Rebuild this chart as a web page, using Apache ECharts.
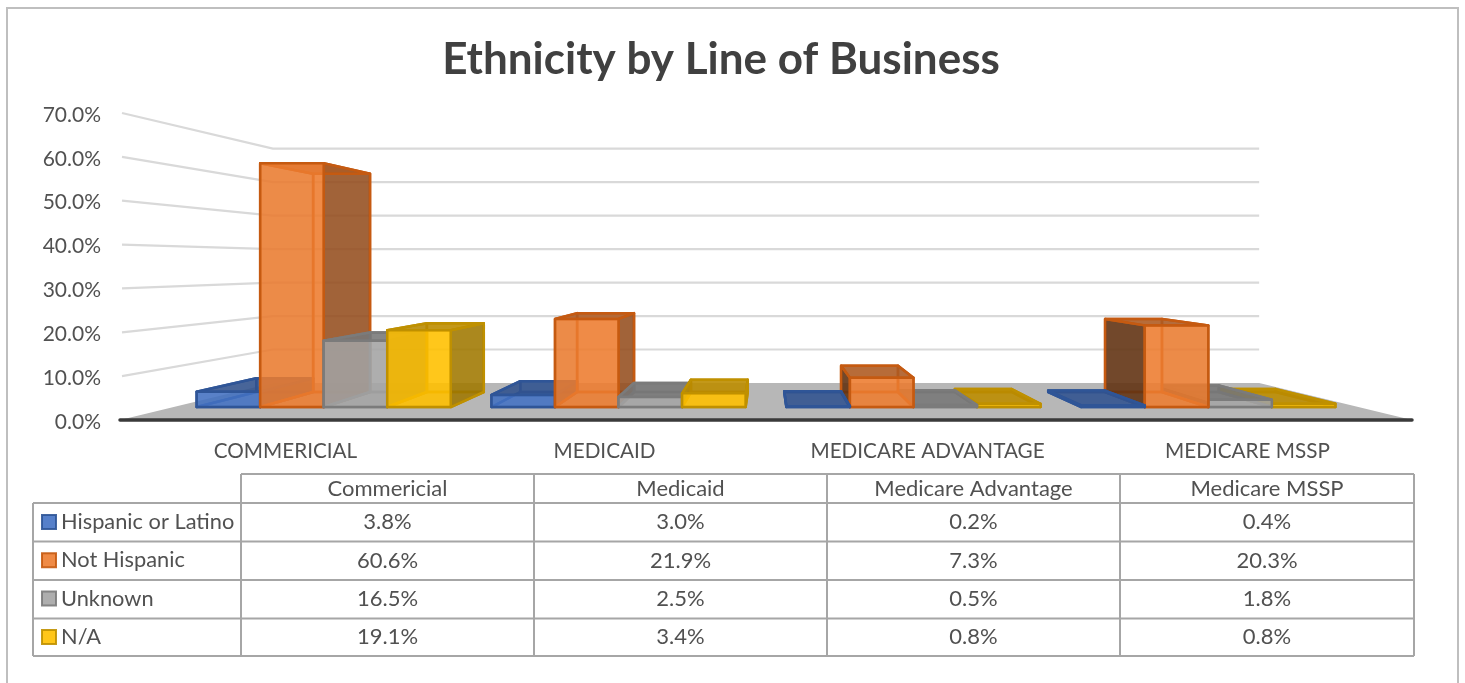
<!DOCTYPE html>
<html>
<head>
<meta charset="utf-8">
<style>html,body{margin:0;padding:0;background:#fff}#chart{width:1465px;height:683px}</style>
<script src="https://cdn.jsdelivr.net/npm/echarts@6/dist/echarts.min.js"></script>
</head>
<body>
<div id="chart"></div>
<script>
// Share of members per ethnicity, by line of business (percent).
const axisCategories = ['COMMERICIAL', 'MEDICAID', 'MEDICARE ADVANTAGE', 'MEDICARE MSSP'];
const tableCategories = ['Commericial', 'Medicaid', 'Medicare Advantage', 'Medicare MSSP'];
const hispanic = [3.8, 3.0, 0.2, 0.4];
const notHispanic = [60.6, 21.9, 7.3, 20.3];
const unknown = [16.5, 2.5, 0.5, 1.8];
const notAvailable = [19.1, 3.4, 0.8, 0.8];
const seriesNames = ['Hispanic or Latino', 'Not Hispanic', 'Unknown', 'N/A'];
const seriesValues = [hispanic, notHispanic, unknown, notAvailable];
const fills = ['#4472C4', '#ED7D31', '#A5A5A5', '#FFC000'];
const edges = ['#2F5597', '#C55A11', '#7B7B7B', '#BF9000'];
const tickValues = [0, 10, 20, 30, 40, 50, 60, 70];

// Perspective set-up: the value axis and category axis live on the front plane,
// everything behind it is pulled toward a vanishing point.
const FONT = 'Lato, "Open Sans", sans-serif';
const TEXT = '#515151';
const VP = { x: 766, y: 263.6 };
const S_BAR_FRONT = 0.917, S_BAR_BACK = 0.821, S_WALL = 0.7634;
const BAR_SHARE = 0.2145;
const CATEGORY_PULL = 0.9955;

function project(p, s) {
  return [VP.x + (p[0] - VP.x) * s, VP.y + (p[1] - VP.y) * s];
}
function shade(hex, k) {
  const n = parseInt(hex.slice(1), 16);
  return [(n >> 16) & 255, (n >> 8) & 255, n & 255].map(c => Math.round(c * k));
}
function rgba(rgb, a) { return 'rgba(' + rgb.join(',') + ',' + a + ')'; }

function renderBar(si) {
  return function (params, api) {
    const cat = api.value(0), val = api.value(1);
    const base = api.coord([cat, 0]), top = api.coord([cat, val]);
    const band = api.size([1, 0])[0];
    const w = band * BAR_SHARE;
    const center = VP.x + (base[0] - VP.x) * CATEGORY_PULL;
    const x0 = center + (si - 2) * w, x1 = x0 + w;
    const pt = (x, y, s) => project([x, y], s);
    const f = [pt(x0, top[1], S_BAR_FRONT), pt(x1, top[1], S_BAR_FRONT), pt(x1, base[1], S_BAR_FRONT), pt(x0, base[1], S_BAR_FRONT)];
    const b = [pt(x0, top[1], S_BAR_BACK), pt(x1, top[1], S_BAR_BACK), pt(x1, base[1], S_BAR_BACK), pt(x0, base[1], S_BAR_BACK)];
    const leftOfVp = f[0][0] < VP.x;
    // Painter's order: bars nearer the centre line sit behind their outer neighbours.
    const order = leftOfVp ? 10 + cat * 10 + si : 100 - cat * 10 + (3 - si);
    const rgb = shade(fills[si], 1);
    // Light falls from the left, so right-hand sides read lighter than left-hand ones.
    const faceSide = leftOfVp ? rgba(shade(fills[si], 0.6), 0.82) : rgba(shade(fills[si], 0.38), 0.85);
    const faceTop = rgba(shade(fills[si], 0.72), 0.85);
    const faceBack = rgba(rgb, 0.35);
    const faceFront = rgba(rgb, 0.84);
    const left = [f[0], b[0], b[3], f[3]], right = [f[1], b[1], b[2], f[2]];
    const bottom = [f[3], f[2], b[2], b[3]], roof = [f[0], f[1], b[1], b[0]];
    const face = (points, fill, idx) => ({
      type: 'polygon', z2: order * 10 + idx,
      shape: { points: points },
      style: { fill: fill, stroke: edges[si], lineWidth: 2.5, lineJoin: 'round' }
    });
    const hidden = leftOfVp ? left : right, visible = leftOfVp ? right : left;
    return {
      type: 'group',
      children: [
        face(b, faceBack, 0),
        face(hidden, rgba(shade(fills[si], 0.7), 0.28), 1),
        face(bottom, rgba(rgb, 0.3), 2),
        face(visible, faceSide, 3),
        face(roof, faceTop, 4),
        face(f, faceFront, 5)
      ]
    };
  };
}

function renderFloor(params) {
  const g = params.coordSys, yBase = g.y + g.height;
  const pts = [[g.x, yBase], [g.x + g.width, yBase],
    project([g.x + g.width, yBase], S_WALL), project([g.x, yBase], S_WALL)];
  return { type: 'polygon', z2: 1, shape: { points: pts }, style: { fill: '#B7B7B7' } };
}

function renderWallLine(params, api) {
  const g = params.coordSys;
  const y = api.coord([0, api.value(0)])[1];
  const a = project([g.x + g.width, y], S_WALL);
  const b = project([g.x, y], S_WALL);
  return {
    type: 'polyline', z2: 2,
    shape: { points: [[g.x + 2, y], b, a] },
    style: { fill: 'none', stroke: '#D9D9D9', lineWidth: 2.2 }
  };
}

// Data table beneath the plot, with its row and column rules.
const tableCols = [33, 241, 534, 827, 1120, 1414];
const tableRows = [474, 503, 541.5, 580, 618.5, 656];
const RULE = '#A6A6A6';
function tableElements() {
  const out = [];
  const rule = (x1, y1, x2, y2) => out.push({
    type: 'line', shape: { x1, y1, x2, y2 }, style: { stroke: RULE, lineWidth: 2 }, silent: true
  });
  tableRows.forEach((y, i) => rule(i === 0 ? tableCols[1] : tableCols[0], y, tableCols[5], y));
  tableCols.forEach((x, i) => rule(x, i === 0 ? tableRows[1] : tableRows[0], x, tableRows[5]));
  const cell = (text, c, r) => out.push({
    type: 'text', silent: true,
    style: {
      text, x: (tableCols[c] + tableCols[c + 1]) / 2, y: (tableRows[r] + tableRows[r + 1]) / 2,
      fill: TEXT, font: '22px ' + FONT, align: 'center', verticalAlign: 'middle'
    }
  });
  tableCategories.forEach((t, c) => cell(t, c + 1, 0));
  seriesValues.forEach((vals, r) => vals.forEach((v, c) => cell(v.toFixed(1) + '%', c + 1, r + 1)));
  return out;
}

const barSeries = seriesNames.map((name, si) => ({
  name, type: 'custom', coordinateSystem: 'cartesian2d',
  renderItem: renderBar(si),
  encode: { x: 0, y: 1 },
  itemStyle: { color: fills[si], borderColor: edges[si], borderWidth: 2 },
  data: seriesValues[si].map((v, c) => [c, v]),
  silent: true
}));

// Axis captions sit slightly inside their band centres.
const captionPads = [[0, 0, 0, 8], [0, 0, 0, 0], [0, 0, 0, 0], [0, 6, 0, 0]];

const chart = echarts.init(document.getElementById('chart'), null, { renderer: 'canvas' });
chart.setOption({
  animation: false,
  backgroundColor: '#fff',
  title: {
    text: 'Ethnicity by Line of Business', left: 716, top: 33, textAlign: 'center',
    textStyle: { fontFamily: FONT, fontWeight: 'bold', fontSize: 44, color: '#404040' }
  },
  grid: { left: 120, right: 53, top: 113, bottom: 263 },
  xAxis: {
    type: 'category', z: 4,
    data: axisCategories.map((value, i) => ({ value, textStyle: { padding: captionPads[i] } })),
    axisTick: { show: false },
    axisLine: { lineStyle: { color: '#3A3A3A', width: 3.5 } },
    axisLabel: { margin: 21, color: TEXT, fontFamily: FONT, fontSize: 20.7 }
  },
  yAxis: {
    type: 'value', min: 0, max: 70, interval: 10,
    axisLine: { show: false }, axisTick: { show: false }, splitLine: { show: false },
    axisLabel: {
      margin: 19, formatter: v => '{v|' + v.toFixed(1) + '%}',
      rich: { v: { color: TEXT, fontFamily: FONT, fontSize: 21, padding: [4, 0, 0, 0] } }
    }
  },
  legend: {
    orient: 'vertical', left: 41, top: 511, itemWidth: 14, itemHeight: 14, itemGap: 16.3,
    icon: 'rect', selectedMode: false, padding: 0,
    textStyle: { color: TEXT, fontFamily: FONT, fontSize: 21.8 },
    data: seriesNames.map((name, i) => ({
      name, itemStyle: { color: fills[i], opacity: 0.9, borderColor: edges[i], borderWidth: 2 }
    }))
  },
  graphic: [
    { type: 'polyline', silent: true, shape: { points: [[7, 683], [7, 8], [1458, 8], [1458, 683]] },
      style: { fill: 'none', stroke: '#BFBFBF', lineWidth: 2 } }
  ].concat(tableElements()),
  series: [
    { type: 'custom', name: 'floor', silent: true, renderItem: renderFloor, data: [[0, 0]], encode: { x: 0, y: 1 } },
    { type: 'custom', name: 'wall', silent: true, renderItem: renderWallLine, data: tickValues.slice(1).map(v => [v]), encode: { y: 0 } }
  ].concat(barSeries)
});
</script>
</body>
</html>
